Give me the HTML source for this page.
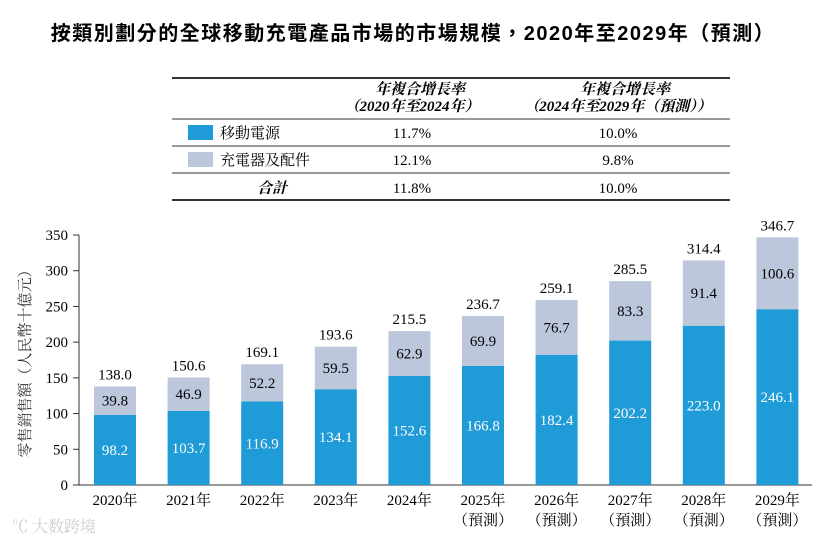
<!DOCTYPE html>
<html><head><meta charset="utf-8"><style>
body{margin:0;width:826px;height:544px;background:#fff;font-family:"Liberation Serif","Noto Serif CJK SC","Noto Sans CJK TC",serif;color:#222;overflow:hidden}
svg text{font-family:"Liberation Serif","Noto Serif CJK SC","Noto Sans CJK TC",serif}
</style></head><body>
<svg width="826" height="544">
<text x="413" y="40" text-anchor="middle" font-size="20" font-weight="bold" letter-spacing="1.5" font-family="Liberation Sans, Noto Sans CJK TC, sans-serif" style="font-family:'Liberation Sans','Noto Sans CJK TC',sans-serif">按類別劃分的全球移動充電產品市場的市場規模，2020年至2029年（預測）</text>
<g>
<line x1="172" x2="730" y1="78" y2="78" stroke="#333" stroke-width="2"/>
<text x="420" y="94" text-anchor="middle" font-size="15" font-style="italic" font-weight="bold">年複合增長率</text>
<text x="412" y="111" text-anchor="middle" font-size="15" font-style="italic" font-weight="bold">（2020年至2024年）</text>
<text x="625" y="94" text-anchor="middle" font-size="15" font-style="italic" font-weight="bold">年複合增長率</text>
<text x="618" y="111" text-anchor="middle" font-size="15" font-style="italic" font-weight="bold">（2024年至2029年（預測））</text>
<line x1="172" x2="730" y1="119" y2="119" stroke="#333"/>
<rect x="188" y="125" width="25" height="15" fill="#1f9bd8"/>
<text x="220" y="138" font-size="15">移動電源</text>
<text x="412" y="138" text-anchor="middle" font-size="15">11.7%</text>
<text x="618" y="138" text-anchor="middle" font-size="15">10.0%</text>
<line x1="172" x2="730" y1="146" y2="146" stroke="#333"/>
<rect x="188" y="152" width="25" height="15" fill="#bcc7dc"/>
<text x="220" y="165" font-size="15">充電器及配件</text>
<text x="412" y="165" text-anchor="middle" font-size="15">12.1%</text>
<text x="618" y="165" text-anchor="middle" font-size="15">9.8%</text>
<line x1="172" x2="730" y1="173" y2="173" stroke="#333"/>
<text x="272" y="193" text-anchor="middle" font-size="15" font-style="italic" font-weight="bold">合計</text>
<text x="412" y="193" text-anchor="middle" font-size="15">11.8%</text>
<text x="618" y="193" text-anchor="middle" font-size="15">10.0%</text>
<line x1="172" x2="730" y1="200" y2="200" stroke="#333" stroke-width="2"/>
</g>
<g id="plot"></g>
<text transform="translate(30,360) rotate(-90)" text-anchor="middle" font-size="15" fill="#333">零售銷售額（人民幣十億元）</text>
<text x="12" y="532" font-size="16" fill="#ccc" font-family="Liberation Sans, Noto Sans CJK SC, sans-serif">℃ 大数跨境</text>
</svg>
<script>
const categories=["2020年","2021年","2022年","2023年","2024年","2025年","2026年","2027年","2028年","2029年"];
const forecast=[false,false,false,false,false,true,true,true,true,true];
const powerBank=[98.2,103.7,116.9,134.1,152.6,166.8,182.4,202.2,223.0,246.1];
const chargers=[39.8,46.9,52.2,59.5,62.9,69.9,76.7,83.3,91.4,100.6];
const totals=[138.0,150.6,169.1,193.6,215.5,236.7,259.1,285.5,314.4,346.7];
const yTicks=[0,50,100,150,200,250,300,350];
const NS="http://www.w3.org/2000/svg";
const g=document.getElementById('plot');
const y0=485,yTop=235,yMax=350;
const y=v=>y0-(v/yMax)*(y0-yTop);
const x=i=>115+i*73.6;
const bw=42;
function mk(t,a,txt){const e=document.createElementNS(NS,t);for(const k in a)e.setAttribute(k,a[k]);if(txt!=null)e.textContent=txt;g.appendChild(e);return e;}
let ax=mk('line',{x1:79,x2:79,y1:y0,y2:yTop,stroke:'#333'});


let bx=mk('line',{x1:79,x2:812,y1:y0,y2:y0,stroke:'#333'});


yTicks.forEach(v=>{
 let t=mk('line',{x1:73,x2:79,y1:y(v),y2:y(v),stroke:'#333'});
 
 
 let l=mk('text',{x:68,y:y(v)+5,'text-anchor':'end','font-size':15},v);
 
 
});
categories.forEach((c,i)=>{
 const cx=x(i);
 let b1=mk('rect',{x:cx-bw/2,y:y(powerBank[i]),width:bw,height:y0-y(powerBank[i]),fill:'#1f9bd8'});
 
 
 const top=powerBank[i]+chargers[i];
 let b2=mk('rect',{x:cx-bw/2,y:y(top),width:bw,height:y(powerBank[i])-y(top),fill:'#bcc7dc'});
 
 
 let l1=mk('text',{x:cx,y:(y(powerBank[i])+y0)/2+5,'text-anchor':'middle','font-size':15,fill:'#fff'},powerBank[i].toFixed(1));
 
 
 let l2=mk('text',{x:cx,y:(y(top)+y(powerBank[i]))/2+5,'text-anchor':'middle','font-size':15},chargers[i].toFixed(1));
 
 
 let l3=mk('text',{x:cx,y:y(top)-7,'text-anchor':'middle','font-size':15},totals[i].toFixed(1));
 
 
 let xl=mk('text',{x:cx,y:505,'text-anchor':'middle','font-size':15},c);
 
 
 if(forecast[i]){
  let f=mk('text',{x:cx,y:525,'text-anchor':'middle','font-size':15},'（預測）');
  
  
 }
});
</script>
</body></html>
